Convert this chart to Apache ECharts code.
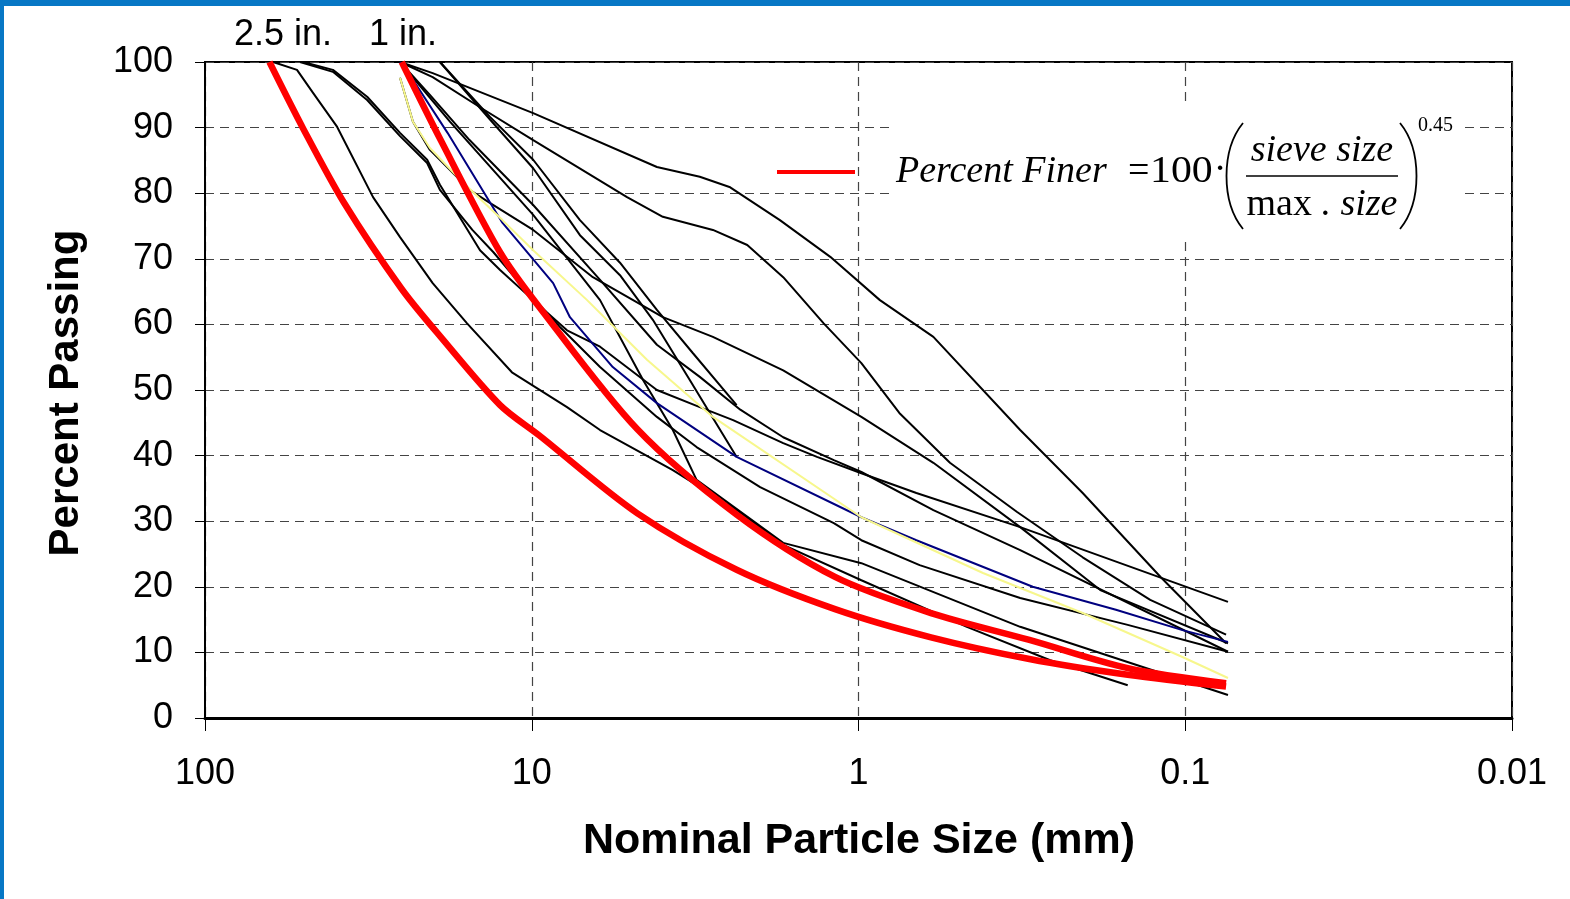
<!DOCTYPE html>
<html>
<head>
<meta charset="utf-8">
<title>Gradation curves</title>
<script src="https://cdn.jsdelivr.net/npm/echarts@6/dist/echarts.min.js"></script>
<style>
  html, body { margin: 0; padding: 0; background: #fff; }
  #chart { width: 1570px; height: 899px; }
</style>
</head>
<body>
<div id="chart"></div>
<script>
// Maximum density (0.45 power) lines, percent passing at standard sieve openings (mm)
const sieveSizes = [63.5, 50, 37.5, 25, 19, 12.5, 9.5, 4.75, 2.36, 1.18, 0.6, 0.3, 0.15, 0.075];
const maxDensity63 = [100, 89.8, 78.5, 65.4, 58.1, 47.7, 43.1, 31.2, 22.6, 16.6, 12.3, 9.0, 6.6, 4.8];
const maxDensity25 = [null, null, null, 100, 88.1, 71, 62.7, 44, 31, 21.5, 16, 11.9, 7.6, 5.3];

// Measured gradations: [particle size mm, percent passing]
const blendBlue = [[25.3,100],[23.1,97.3],[18.1,89.2],[12.3,75.5],[8.6,66.3],[7.64,61.1],[5.65,53.5],[4.14,48.0],[2.36,39.8],[0.98,30.6],[0.665,27.1],[0.293,20.0],[0.163,16.5],[0.102,13.4],[0.074,11.6]];
const blendYellow = [[25.3,97.6],[23.1,90.9],[20.5,86.9],[16.3,81.7],[12.3,75.9],[9.9,71.3],[6.77,63.7],[4.44,54.6],[2.79,45.9],[0.98,30.6],[0.416,22.1],[0.206,16.0],[0.102,9.3],[0.074,6.1]];

const blendA = [[25.3,100],[20.1,98.3],[9.9,92.2],[4.14,84.0],[3.06,82.5],[2.47,80.9],[1.74,75.9],[1.22,70.3],[0.86,63.7],[0.59,58.1],[0.32,43.9],[0.206,34.3],[0.119,21.5],[0.075,11.4]];
const blendB = [[25.3,100],[20.1,97.7],[14.4,93.1],[9.9,88.1],[5.11,79.4],[3.97,76.4],[2.79,74.4],[2.19,72.1],[1.70,67.2],[1.28,60.2],[0.98,54.1],[0.75,46.5],[0.525,38.9],[0.327,31.4],[0.206,24.5],[0.128,18.0],[0.075,12.7]];
const blendC = [[19.1,100],[13.4,91.6],[9.9,85.1],[7.12,75.9],[5.37,69.4],[4.14,62.2],[3.21,55.6],[2.36,47.7]];
const blendD = [[19.1,100],[13.4,91.2],[9.9,83.8],[7.12,73.6],[5.37,67.5],[4.26,60.7],[3.28,51.5],[2.36,39.8]];
const blendE = [[25.3,100],[17.8,90.9],[9.9,76.7],[6.18,63.7],[4.56,51.5],[3.70,43.9],[3.13,36.3],[1.70,26.7],[0.98,23.6],[0.32,13.9],[0.074,3.5]];
const blendF = [[61.9,100],[52.3,98.8],[46.7,95.3],[39.4,90.1],[30.6,79.4],[25.3,73.3],[20.1,66.3],[15.8,60.2],[11.5,52.7],[7.80,47.4],[6.18,43.9],[3.70,37.8],[2.36,31.7],[1.70,26.4],[0.98,21.0],[0.466,13.9],[0.259,8.8],[0.15,5.0]];
const blendG = [[51.2,100],[40.6,98.5],[31.9,94.2],[25.3,88.7],[20.9,84.6],[19.1,80.5],[15.2,74.4],[13.1,71.0],[10.9,66.3],[8.20,59.6],[6.18,53.5],[4.14,45.9],[3.13,41.3],[2.00,35.2],[1.19,29.7],[0.98,27.1],[0.65,23.3],[0.32,18.3],[0.15,14.2],[0.074,10.1]];
const blendH = [[50.1,100],[40.6,98.8],[31.9,94.7],[25.3,89.2],[20.9,85.1],[19.1,81.3],[14.4,71.3],[12.5,68.3],[9.9,63.7],[7.80,59.1],[6.18,56.6],[4.14,50.0],[3.06,47.4],[2.42,45.4],[1.70,41.9],[1.34,39.8],[0.98,37.3],[0.665,34.3],[0.32,29.1],[0.074,17.7]];
const blendI = [[25.3,100],[20.5,95.0],[15.5,88.1],[9.9,78.2],[6.18,66.8],[4.14,56.9],[3.06,52.0],[2.30,47.0],[1.70,42.8],[1.19,39.3],[0.98,37.5],[0.59,31.7],[0.32,25.6],[0.074,10.1]];
const blendJ = [[25.3,97.6],[23.1,90.9],[20.5,86.6],[17.2,82.8],[15.5,80.5],[13.4,78.5],[9.9,74.4],[6.5,67.2],[3.97,61.1],[2.79,58.1],[1.70,53.0],[0.98,45.9],[0.59,38.9],[0.32,29.1],[0.182,19.5],[0.074,11.4]];

const blackBlends = [blendA, blendB, blendC, blendD, blendE, blendF, blendG, blendH, blendI, blendJ];

const xTickLabels = ['100', '10', '1', '0.1', '0.01'];
const topLabels = ['2.5 in.', '1 in.'];

function sievePairs(values) {
  const out = [];
  values.forEach((v, i) => { if (v !== null) out.push([sieveSizes[i], v]); });
  return out;
}

const chart = echarts.init(document.getElementById('chart'), null, { renderer: 'canvas' });

const series = [];
blackBlends.forEach((b) => {
  series.push({ type: 'line', data: b, showSymbol: false,
    lineStyle: { color: '#000', width: 2 }, z: 3, silent: true });
});
series.push({ type: 'line', data: blendBlue, showSymbol: false,
  lineStyle: { color: '#00007f', width: 2 }, z: 4, silent: true });
series.push({ type: 'line', data: blendYellow, showSymbol: false,
  lineStyle: { color: '#f7f78c', width: 2 }, z: 4, silent: true });
[maxDensity63, maxDensity25].forEach((m) => {
  series.push({ type: 'line', data: sievePairs(m), showSymbol: false, smooth: 0.3,
    lineStyle: { color: '#ff0000', width: 6.5 }, z: 5, silent: true });
});

const dashed = { color: '#444', width: 1.2, type: [9, 6] };

const option = {
  backgroundColor: '#fff',
  animation: false,
  grid: { left: 205, right: 58, top: 62, bottom: 181,
    show: true, borderColor: '#000', borderWidth: 2, backgroundColor: 'transparent' },
  xAxis: {
    type: 'log', logBase: 10, min: 0.01, max: 100, inverse: true,
    axisLine: { show: true, lineStyle: { color: '#000', width: 3 } },
    axisTick: { show: true, length: 13, lineStyle: { color: '#000', width: 1 } },
    axisLabel: {
      margin: 38, color: '#000', fontFamily: 'Liberation Sans', fontSize: 36,
      formatter: v => xTickLabels[2 - Math.round(Math.log10(v))]
    },
    splitLine: { show: true, lineStyle: dashed }
  },
  yAxis: {
    type: 'value', min: 0, max: 100, interval: 10,
    axisLine: { show: true, lineStyle: { color: '#000', width: 2 } },
    axisTick: { show: true, length: 10, lineStyle: { color: '#000', width: 1 } },
    axisLabel: { margin: 32, color: '#000', fontFamily: 'Liberation Sans', fontSize: 36 },
    splitLine: { show: true, lineStyle: dashed }
  },
  series: series
};

chart.setOption(option);

// Frame, titles and the formula legend
const g = [];
g.push({ type: 'rect', shape: { x: 0, y: 0, width: 1570, height: 6 }, style: { fill: '#0777c5' }, z: 100 });
g.push({ type: 'rect', shape: { x: 0, y: 0, width: 4, height: 899 }, style: { fill: '#0777c5' }, z: 100 });

[283, 403].forEach((cx, i) => {
  g.push({ type: 'text', x: cx, y: 35, z: 100,
    style: { text: topLabels[i], fill: '#000', font: "36px 'Liberation Sans'", textAlign: 'center', textVerticalAlign: 'middle' } });
});

g.push({ type: 'text', x: 859, y: 841, z: 100,
  style: { text: 'Nominal Particle Size (mm)', fill: '#000', font: "bold 43px 'Liberation Sans'", textAlign: 'center', textVerticalAlign: 'middle' } });
g.push({ type: 'text', x: 66, y: 393, rotation: Math.PI / 2, z: 100,
  style: { text: 'Percent Passing', fill: '#000', font: "bold 42px 'Liberation Sans'", textAlign: 'center', textVerticalAlign: 'middle' } });

g.push({ type: 'rect', shape: { x: 889, y: 107, width: 576, height: 133 }, style: { fill: '#fff' }, z: 50 });
g.push({ type: 'line', shape: { x1: 777, y1: 172, x2: 855, y2: 172 }, style: { stroke: '#ff0000', lineWidth: 4 }, z: 60 });
const serif = "'Liberation Serif'";
g.push({ type: 'text', x: 896, y: 172, z: 60,
  style: { text: 'Percent Finer', fill: '#000', font: 'italic 38px ' + serif, textAlign: 'left', textVerticalAlign: 'middle' } });
g.push({ type: 'text', x: 1128, y: 172, z: 60,
  style: { text: '=', fill: '#000', font: '38px ' + serif, textAlign: 'left', textVerticalAlign: 'middle' } });
g.push({ type: 'text', x: 1150, y: 172, z: 60, scaleX: 1.1, originX: 0, originY: 0,
  style: { text: '100', fill: '#000', font: '38px ' + serif, textAlign: 'left', textVerticalAlign: 'middle' } });
g.push({ type: 'text', x: 1220, y: 170, z: 60,
  style: { text: '·', fill: '#000', font: '38px ' + serif, textAlign: 'center', textVerticalAlign: 'middle' } });
g.push({ type: 'bezierCurve', z: 60,
  shape: { x1: 1243, y1: 123, x2: 1243, y2: 229, cpx1: 1221, cpy1: 150, cpx2: 1221, cpy2: 202 },
  style: { stroke: '#000', lineWidth: 1.8, fill: null } });
g.push({ type: 'bezierCurve', z: 60,
  shape: { x1: 1400, y1: 123, x2: 1400, y2: 229, cpx1: 1422, cpy1: 150, cpx2: 1422, cpy2: 202 },
  style: { stroke: '#000', lineWidth: 1.8, fill: null } });
g.push({ type: 'text', x: 1322, y: 151, z: 60,
  style: { text: 'sieve size', fill: '#000', font: 'italic 38px ' + serif, textAlign: 'center', textVerticalAlign: 'middle' } });
g.push({ type: 'line', shape: { x1: 1246, y1: 176, x2: 1398, y2: 176 }, style: { stroke: '#000', lineWidth: 1.5 }, z: 60 });
g.push({ type: 'text', x: 1322, y: 205, z: 60,
  style: { text: '{u|max}{i| . size}', fill: '#000', textAlign: 'center', textVerticalAlign: 'middle',
    rich: { u: { font: '38px ' + serif, fill: '#000' }, i: { font: 'italic 38px ' + serif, fill: '#000' } } } });
g.push({ type: 'text', x: 1418, y: 126, z: 60,
  style: { text: '0.45', fill: '#000', font: '20px ' + serif, textAlign: 'left', textVerticalAlign: 'middle' } });

chart.setOption({ graphic: g });
</script>
</body>
</html>
